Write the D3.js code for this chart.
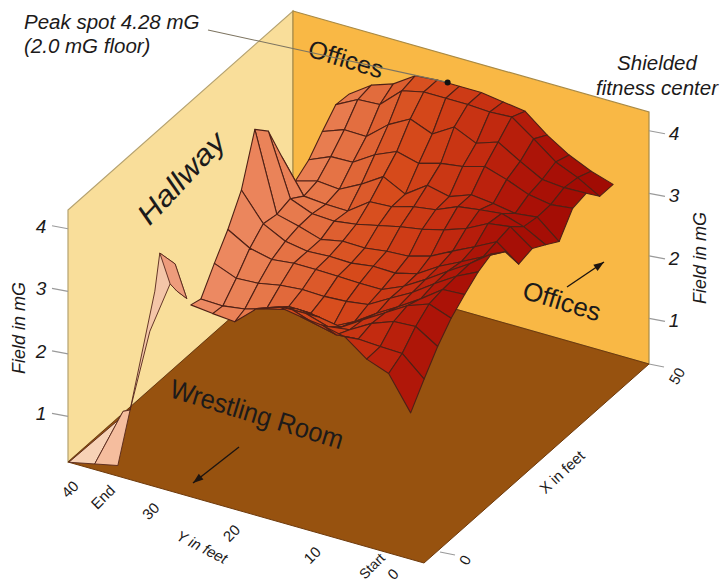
<!DOCTYPE html>
<html>
<head>
<meta charset="utf-8">
<script src="https://cdn.jsdelivr.net/npm/d3@7"></script>
<style>
  body { margin: 0; background: #fff; }
  text { font-family: "Liberation Sans", Arial, sans-serif; fill: #1c1a1a; }
</style>
</head>
<body>
<div id="chart"></div>
<script>
// grid positions in feet
const xFeet = [0, 3, 6, 9, 12, 15, 18, 21, 24, 27, 30, 33, 36, 39, 42, 45];
const yFeet = [1.5, 3.97, 6.44, 8.91, 11.38, 13.85, 16.32, 18.79, 21.26, 23.73, 26.2, 28.67, 31.14];

// field in mG, one row per xFeet value, null = no surface drawn
const _ = null;
const field = [
  [2.61,3.14,3.27,3.53,3.61,3.65,3.71,3.58,3.27,3.30,3.34,_,_],
  [2.96,3.27,3.28,3.30,3.27,3.35,3.47,_,_,_,_,_,_],
  [3.29,3.51,3.49,3.36,3.16,3.11,3.22,3.22,_,_,_,_,_],
  [3.55,3.68,3.55,3.34,3.13,2.91,2.97,3.00,_,_,_,_,_],
  [3.74,3.72,3.47,3.25,3.04,2.81,2.63,2.74,2.75,2.62,2.51,2.46,2.47],
  [3.91,3.74,3.52,3.28,3.09,2.89,2.84,2.82,2.83,2.80,2.73,2.71,2.85],
  [4.01,3.75,3.53,3.30,3.09,2.94,2.94,2.95,2.96,2.96,2.92,3.00,3.20],
  [3.85,3.67,3.49,3.32,3.10,3.01,3.02,2.97,2.98,2.96,3.02,3.20,3.64],
  [3.46,3.72,3.54,3.37,3.19,3.09,3.07,3.02,3.03,2.96,3.07,3.16,4.42],
  [3.52,3.77,3.72,3.54,3.42,3.33,3.27,3.19,3.11,3.06,3.08,3.22,4.20],
  [3.39,3.58,3.69,3.65,3.60,3.45,3.40,3.30,3.28,3.03,3.04,3.07,3.60],
  [3.25,3.54,3.50,3.56,3.60,3.47,3.55,3.31,3.49,3.27,3.09,3.12,3.02],
  [3.59,3.55,3.61,3.75,3.86,3.76,3.71,3.61,3.70,3.55,3.33,3.32,3.17],
  [3.64,3.63,3.66,3.85,4.06,3.94,4.10,3.89,4.03,3.84,3.55,3.56,3.43],
  [3.40,3.60,3.75,4.02,4.27,4.25,4.27,4.27,4.27,4.19,3.87,3.85,3.67],
  [3.40,3.51,3.67,3.89,4.17,4.22,4.27,4.27,4.27,4.24,4.01,3.89,3.65]
];

// loose pieces at the hallway end, as [x, y, mG]
const hallwayFin = [[13.6,39.9,0.24],[19.1,39.9,1.79],[20.2,39.9,2.33],[23.6,39.9,1.94],[26.2,39.9,1.22],[24,39.9,1.48],[22.5,39.9,1.69],[18,39.9,1.22]];
const hallwayFinFace = [[20.2,39.9,2.33],[23.6,39.9,1.94],[26.2,39.9,1.22],[24,39.9,1.48],[22.5,39.9,1.69]];
const wedgeLeft = [[0,39.9,0.27],[0,37,0.36],[6.3,37,0.8],[13.6,39.9,0.24]];
const wedgeRight = [[0,37,0.36],[0,34.4,0.44],[13.6,39.9,0.24],[6.3,37,0.8]];
const peak = [45, 20.1, 4.28];

const zTicks = [1, 2, 3, 4];
const yTicks = [0, 10, 20, 30, 40];
const xTicks = [0, 50];

const width = 723;
const height = 584;

// oblique projection of the room, origin at the x=0, y=0 floor corner
const xToH = d3.scaleLinear().domain([0, 50]).range([424, 649]);
const yToH = d3.scaleLinear().domain([0, 40]).range([0, -356]);
const xToV = d3.scaleLinear().domain([0, 50]).range([563, 364]);
const yToV = d3.scaleLinear().domain([0, 40]).range([0, -101]);
const zToV = d3.scaleLinear().domain([0.27, 4.3]).range([0, -252]);

const project = (x, y, z) => [xToH(x) + yToH(y), xToV(x) + yToV(y) + zToV(z)];
const zBase = 0.27, zTop = 4.3;

const shade = d3.scaleLinear()
  .domain([1.5, 8, 14, 22, 30, 40])
  .range(["#9e0a03", "#ab1207", "#c42c10", "#d74c1c", "#e7794b", "#f29c7c"])
  .clamp(true);

const outline = d3.line();
const closed = pts => outline(pts) + "Z";

const svg = d3.select("#chart").append("svg")
  .attr("width", width)
  .attr("height", height)
  .attr("viewBox", [0, 0, width, height])
  .style("display", "block");

// walls and floor
const wallLeft = [project(0,40,zBase), project(0,40,zTop), project(50,40,zTop), project(50,40,zBase)];
const wallBack = [project(50,40,zTop), project(50,0,zTop), project(50,0,zBase), project(50,40,zBase)];
const floor = [project(0,40,zBase), project(0,0,zBase), project(50,0,zBase), project(50,40,zBase)];

svg.append("path").attr("d", closed(wallLeft)).attr("fill", "#f9de9a").attr("stroke", "#b5a270").attr("stroke-width", 1.2);
svg.append("path").attr("d", closed(wallBack)).attr("fill", "#f9b845").attr("stroke", "#a98a45").attr("stroke-width", 1.2);
svg.append("path").attr("d", closed(floor)).attr("fill", "#97520f").attr("stroke", "#6e3a0c").attr("stroke-width", 1);

const vertex = (i, j) => project(xFeet[i], yFeet[j], field[i][j]);
const tone = (i, j) => yFeet[j] + (45 - xFeet[i]) * 0.15;

// surface, back cells first; triangles are only used along the cut front edge
const cells = [];
for (let i = xFeet.length - 2; i >= 0; i--) {
  for (let j = yFeet.length - 2; j >= 0; j--) {
    const corners = [[i, j], [i + 1, j], [i + 1, j + 1], [i, j + 1]].filter(c => field[c[0]][c[1]] !== null);
    if (corners.length < 3 || (corners.length === 3 && i >= 4)) continue;
    cells.push({
      pts: corners.map(c => vertex(c[0], c[1])),
      v: d3.mean(corners, c => tone(c[0], c[1]))
    });
  }
}

// strip along the front: x=0 row joined to the x=12 row
for (let j = 9; j >= 6; j--) {
  cells.push({
    pts: [vertex(0, j), vertex(4, j + 2), vertex(4, j + 3), vertex(0, j + 1)],
    v: d3.mean([tone(4, j + 2), tone(4, j + 3)])
  });
}

svg.append("g")
  .selectAll("path")
  .data(cells)
  .join("path")
  .attr("d", d => closed(d.pts))
  .attr("fill", d => shade(d.v))
  .attr("stroke", "#4f2116")
  .attr("stroke-width", 1.1)
  .attr("stroke-linejoin", "round");

// pale pieces in the hallway corner
const pale = [
  [hallwayFin, "#f4c6a8"],
  [hallwayFinFace, "#ee9c7c"],
  [wedgeLeft, "#f7d2b6"],
  [wedgeRight, "#f5bd9e"]
];
svg.append("g")
  .selectAll("path")
  .data(pale)
  .join("path")
  .attr("d", d => closed(d[0].map(p => project(p[0], p[1], p[2]))))
  .attr("fill", d => d[1])
  .attr("stroke", "#55261a")
  .attr("stroke-width", 0.9);

// field axes on both walls
const zAxisLeft = svg.append("g");
zAxisLeft.selectAll("line").data(zTicks).join("line")
  .attr("x1", d => project(0, 40, d)[0] - 16).attr("x2", d => project(0, 40, d)[0])
  .attr("y1", d => project(0, 40, d)[1] - 3).attr("y2", d => project(0, 40, d)[1])
  .attr("stroke", "#9a9a9a").attr("stroke-width", 1.2);
zAxisLeft.selectAll("text").data(zTicks).join("text")
  .attr("x", d => project(0, 40, d)[0] - 27).attr("y", d => project(0, 40, d)[1] + 4)
  .attr("text-anchor", "middle").attr("font-size", 19).attr("font-style", "italic")
  .text(d => d);

const zAxisRight = svg.append("g");
zAxisRight.selectAll("line").data(zTicks).join("line")
  .attr("x1", d => project(50, 0, d)[0]).attr("x2", d => project(50, 0, d)[0] + 16)
  .attr("y1", d => project(50, 0, d)[1]).attr("y2", d => project(50, 0, d)[1] + 3)
  .attr("stroke", "#9a9a9a").attr("stroke-width", 1.2);
zAxisRight.selectAll("text").data(zTicks).join("text")
  .attr("x", d => project(50, 0, d)[0] + 25).attr("y", d => project(50, 0, d)[1] + 9)
  .attr("text-anchor", "middle").attr("font-size", 19).attr("font-style", "italic")
  .text(d => d);

const rotated = (label, x, y, angle, size, style) =>
  svg.append("text")
    .attr("transform", `translate(${x},${y}) rotate(${angle})`)
    .attr("text-anchor", "middle")
    .attr("dy", "0.35em")
    .attr("font-size", size)
    .attr("font-style", style || "normal")
    .text(label);

// floor axes
svg.append("g").selectAll("text").data(yTicks).join("text")
  .attr("transform", d => {
    const p = project(0, d, zBase);
    return `translate(${p[0] - 31 + d * 0.825},${p[1] + (d === 0 ? 11 : 14 + d * 0.33)}) rotate(-45)`;
  })
  .attr("text-anchor", "middle").attr("dy", "0.35em").attr("font-size", 15)
  .text(d => d);

svg.append("g").selectAll("line").data(xTicks).join("line")
  .attr("x1", d => project(d, 0, zBase)[0] + (d === 0 ? 16 : 0)).attr("x2", d => project(d, 0, zBase)[0] + (d === 0 ? 31 : 15))
  .attr("y1", d => project(d, 0, zBase)[1] - (d === 0 ? 11 : 0)).attr("y2", d => project(d, 0, zBase)[1] - (d === 0 ? 8 : -3))
  .attr("stroke", "#9a9a9a").attr("stroke-width", 1.2);
svg.append("g").selectAll("text").data(xTicks).join("text")
  .attr("transform", d => {
    const p = project(d, 0, zBase);
    return `translate(${p[0] + (d === 0 ? 41 : 28)},${p[1] + (d === 0 ? -3 : 12)}) rotate(-60)`;
  })
  .attr("text-anchor", "middle").attr("dy", "0.35em").attr("font-size", 15)
  .text(d => d);

rotated("End", 103, 497, -45, 15);
rotated("Start", 372, 566, -45, 14);
rotated("Y in feet", 202, 547, 27, 15, "italic");
rotated("X in feet", 562, 472, -43, 15);
rotated("Field in mG", 19, 328, -90, 18, "italic");
rotated("Field in mG", 700, 258, -90, 18, "italic");

// room labels
rotated("Hallway", 181, 178, -47, 29, "italic").attr("textLength", 114).attr("lengthAdjust", "spacingAndGlyphs");
rotated("Offices", 346, 59, 17, 25);
rotated("Offices", 562, 301, 17, 26);
rotated("Wrestling Room", 257, 414, 17, 27).attr("textLength", 180).attr("lengthAdjust", "spacingAndGlyphs");
rotated("Shielded", 657, 63, 0, 20.5, "italic");
rotated("fitness center", 657, 88, 0, 20.5, "italic");

svg.append("text").attr("x", 24).attr("y", 29).attr("font-size", 20.5).attr("font-style", "italic").text("Peak spot 4.28 mG");
svg.append("text").attr("x", 24).attr("y", 53).attr("font-size", 20.5).attr("font-style", "italic").text("(2.0 mG floor)");

// leader to the peak
const peakPos = project(peak[0], peak[1], peak[2]);
svg.append("line")
  .attr("x1", 208).attr("y1", 30).attr("x2", peakPos[0]).attr("y2", peakPos[1])
  .attr("stroke", "#7d7460").attr("stroke-width", 1.1);
svg.append("circle")
  .attr("cx", peakPos[0]).attr("cy", peakPos[1]).attr("r", 3).attr("fill", "#111");

// arrows
const arrow = (x1, y1, x2, y2) => {
  const a = Math.atan2(y2 - y1, x2 - x1);
  svg.append("line").attr("x1", x1).attr("y1", y1).attr("x2", x2).attr("y2", y2)
    .attr("stroke", "#1c1410").attr("stroke-width", 1.4);
  const tip = d => [x2 + 11 * Math.cos(a + d), y2 + 11 * Math.sin(a + d)];
  svg.append("path").attr("d", closed([[x2, y2], tip(Math.PI - 0.35), tip(Math.PI + 0.35)])).attr("fill", "#1c1410");
};
arrow(567, 287, 604, 262);
arrow(239, 447, 193, 483);
</script>
</body>
</html>
